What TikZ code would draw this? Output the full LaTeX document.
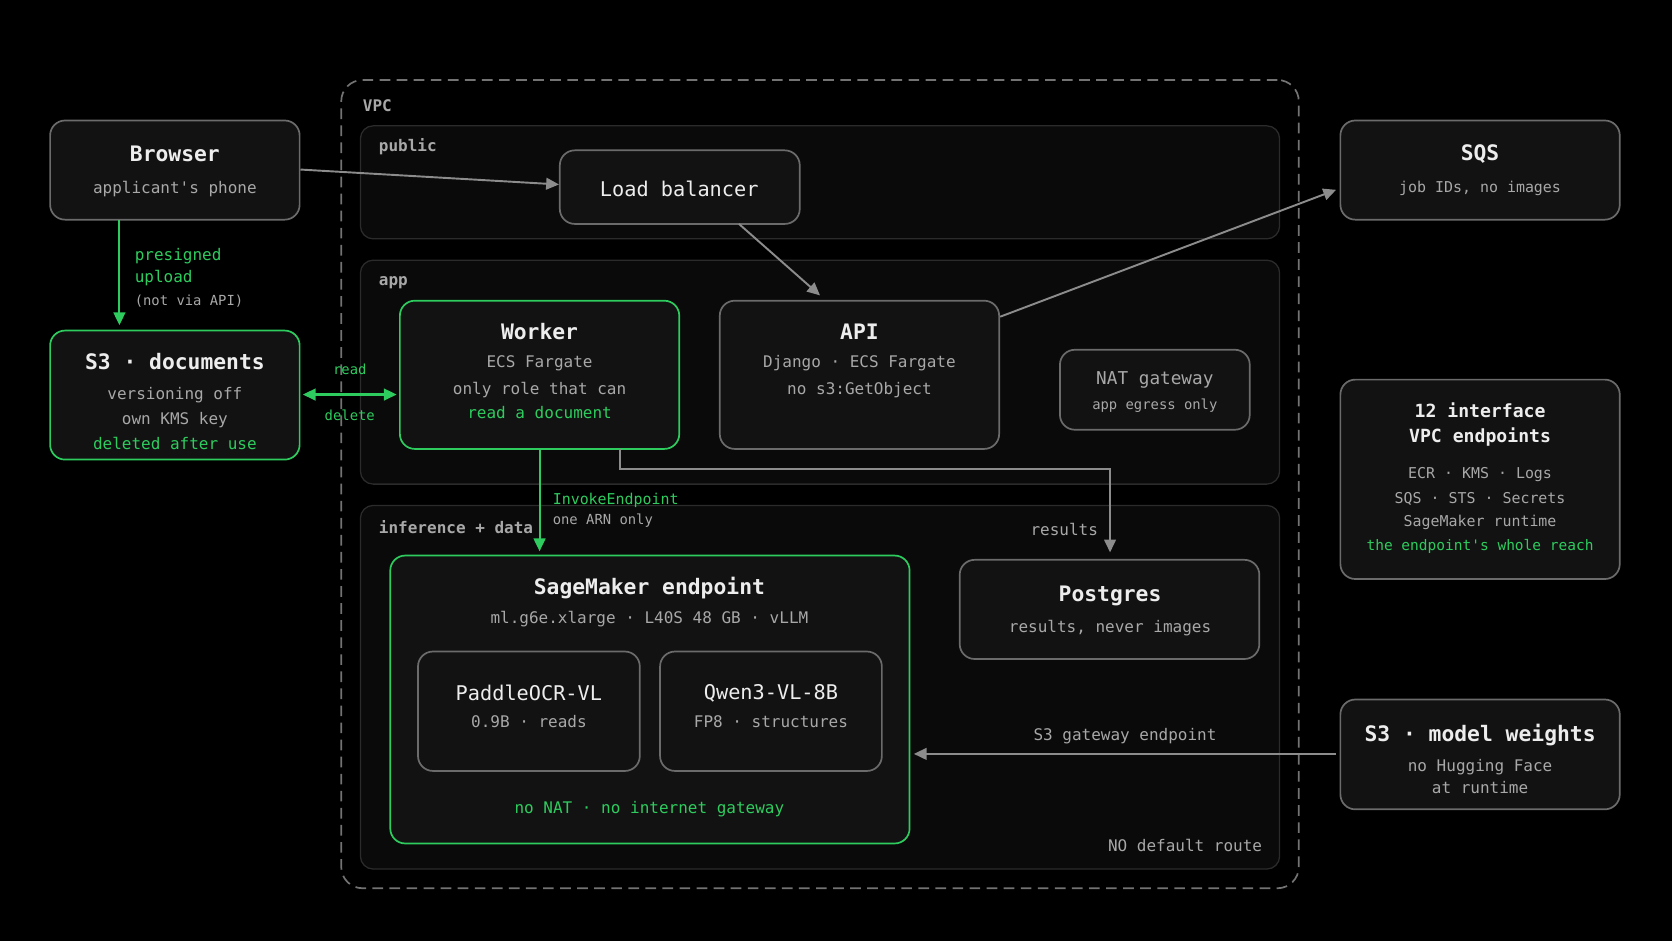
\documentclass[tikz,border=0pt]{standalone}
\usepackage{fontspec}
\setmonofont{DejaVu Sans Mono}
\usetikzlibrary{fit,arrows.meta}
\definecolor{grn}{HTML}{2ECC5E}
\definecolor{txt}{HTML}{EDEDED}
\definecolor{sub}{HTML}{A8A8A8}
\definecolor{arr}{HTML}{8C8C8C}
\begin{document}
\begin{tikzpicture}[x=0.5pt,y=-0.5pt,font=\ttfamily,
 panel/.style={draw=white!17!black,fill=white!4!black,rounded corners=6pt,line width=0.6pt,inner sep=0},
 box/.style={draw=white!42!black,fill=white!7!black,rounded corners=7pt,line width=0.8pt,inner sep=0},
 gbox/.style={box,draw=grn},
 ttl/.style={text=txt,font=\ttfamily\bfseries\fontsize{10}{12}\selectfont},
 ttn/.style={text=txt,font=\ttfamily\fontsize{9.5}{12}\selectfont},
 st/.style={text=sub,font=\ttfamily\fontsize{7.5}{9}\selectfont},
 sg/.style={text=grn,font=\ttfamily\fontsize{7.5}{9}\selectfont},
 sm/.style={text=sub,font=\ttfamily\fontsize{6.5}{8}\selectfont},
 pl/.style={text=sub,font=\ttfamily\bfseries\fontsize{7.5}{9}\selectfont,anchor=west,inner sep=0},
 wl/.style={anchor=west,inner sep=0},
 ga/.style={draw=arr,line width=0.9pt,-{Triangle[length=6pt,width=5.5pt]}},
 gr/.style={draw=grn,line width=1pt,-{Triangle[length=6pt,width=5.5pt]}}]
\useasboundingbox[fill=black] (0,0) rectangle (1568,882);
% VPC
\node[draw=white!45!black,dashed,dash pattern=on 5pt off 3pt,rounded corners=10pt,line width=0.8pt,fit={(320,75)(1218,833)},inner sep=0] (vpc) {};
\node[pl,text=sub] (vpcl) at (340,99) {VPC};
\node[panel,fit={(338,118)(1200,224)}] (pub) {};
\node[pl] (publ) at (355,138) {public};
\node[panel,fit={(338,244)(1200,454)}] (app) {};
\node[pl] (appl) at (355,265) {app};
\node[panel,fit={(338,474)(1200,815)}] (inf) {};
\node[pl] (infl) at (355,494) {inference + data};
\node[st,anchor=east,inner sep=0] (nodef) at (1184,793) {NO default route};
% Browser
\node[box,fit={(47,113)(281,206)}] (browser) {};
\node[ttl] (bt) at (164,144) {Browser};
\node[st] (bs) at (164,177) {applicant's phone};
% S3 docs
\node[gbox,fit={(47,310)(281,431)}] (s3d) {};
\node[ttl] (s3dt) at (164,339) {S3 · documents};
\node[st] (s3d1) at (164,371) {versioning off};
\node[st] (s3d2) at (164,394) {own KMS key};
\node[sg] (s3d3) at (164,416) {deleted after use};
% LB
\node[box,fit={(525,141)(750,210)}] (lb) {};
\node[ttn] (lbt) at (637,177) {Load balancer};
% Worker
\node[gbox,fit={(375,282)(637,421)}] (worker) {};
\node[ttl] (wt) at (506,311) {Worker};
\node[st] (w1) at (506,341) {ECS Fargate};
\node[st] (w2) at (506,366) {only role that can};
\node[sg] (w3) at (506,387) {read a document};
% API
\node[box,fit={(675,282)(937,421)}] (api) {};
\node[ttl] (at) at (806,311) {API};
\node[st] (a1) at (806,341) {Django · ECS Fargate};
\node[st] (a2) at (806,366) {no s3:GetObject};
% NAT
\node[box,fit={(994,328)(1172,403)}] (nat) {};
\node[ttn,text=sub,font=\ttfamily\fontsize{8.3}{10}\selectfont] (nt) at (1083,356) {NAT gateway};
\node[sm] (ns) at (1083,380) {app egress only};
% SageMaker
\node[gbox,fit={(366,521)(853,791)}] (sm) {};
\node[ttl] (smt) at (609,551) {SageMaker endpoint};
\node[st] (sms) at (609,581) {ml.g6e.xlarge · L40S 48 GB · vLLM};
\node[sg] (smf) at (609,759) {no NAT · no internet gateway};
\node[box,fit={(392,611)(600,723)}] (pad) {};
\node[ttn] (pt) at (496,650) {PaddleOCR-VL};
\node[st] (ps) at (496,677) {0.9B · reads};
\node[box,fit={(619,611)(827,723)}] (qw) {};
\node[ttn] (qt) at (723,650) {Qwen3-VL-8B};
\node[st] (qs) at (723,677) {FP8 · structures};
% Postgres
\node[box,fit={(900,525)(1181,618)}] (pg) {};
\node[ttl] (pgt) at (1041,559) {Postgres};
\node[st] (pgs) at (1041,589) {results, never images};
% SQS
\node[box,fit={(1257,113)(1519,206)}] (sqs) {};
\node[ttl] (sqt) at (1388,144) {SQS};
\node[sm,font=\ttfamily\fontsize{7}{9}\selectfont] (sqs1) at (1388,177) {job IDs, no images};
% VPC endpoints
\node[box,fit={(1257,356)(1519,543)}] (vep) {};
\node[ttl,font=\ttfamily\bfseries\fontsize{8.5}{10}\selectfont] (v1) at (1388,385) {12 interface};
\node[ttl,font=\ttfamily\bfseries\fontsize{8.5}{10}\selectfont] (v2) at (1388,410) {VPC endpoints};
\node[sm,font=\ttfamily\fontsize{7}{9}\selectfont] (v3) at (1388,445) {ECR · KMS · Logs};
\node[sm,font=\ttfamily\fontsize{7}{9}\selectfont] (v4) at (1388,468) {SQS · STS · Secrets};
\node[sm,font=\ttfamily\fontsize{7}{9}\selectfont] (v5) at (1388,490) {SageMaker runtime};
\node[sg,font=\ttfamily\fontsize{6.8}{9}\selectfont] (v6) at (1388,512) {the endpoint's whole reach};
% S3 weights
\node[box,fit={(1257,656)(1519,759)}] (s3w) {};
\node[ttl] (s3wt) at (1388,689) {S3 · model weights};
\node[st] (s3w1) at (1388,719) {no Hugging Face};
\node[st] (s3w2) at (1388,739) {at runtime};
% arrows
\draw[ga] (browser.east |- 0,159) -- (lb.west |- 0,173);
\draw[ga] (693,210) -- (769,277);
\draw[ga] (938,297) -- (1253,178);
\draw[gr] (112,206) -- (112,305);
\node[sg,wl] (pu1) at (126,240) {presigned};
\node[sg,wl] (pu2) at (126,261) {upload};
\node[sm,wl] (pu3) at (126,282) {(not via API)};
\draw[draw=grn,line width=1pt,{Triangle[length=6pt,width=5.5pt]}-{Triangle[length=6pt,width=5.5pt]}] (284,370) -- (372,370);
\node[sg,font=\ttfamily\fontsize{6.5}{8}\selectfont] (rd) at (328,346) {read};
\node[sg,font=\ttfamily\fontsize{6.5}{8}\selectfont] (dl) at (328,389) {delete};
\draw[gr] (506,421) -- (506,517);
\node[sg,wl,font=\ttfamily\fontsize{7}{9}\selectfont] (ie) at (518,469) {InvokeEndpoint};
\node[sm,wl] (oa) at (518,488) {one ARN only};
\draw[ga] (581,421) -- (581,440) -- (1041,440) -- (1041,518);
\node[st] (res) at (998,497) {results};
\draw[ga] (1253,707) -- (857,707);
\node[st] (s3g) at (1055,690) {S3 gateway endpoint};
\end{tikzpicture}
\end{document}
